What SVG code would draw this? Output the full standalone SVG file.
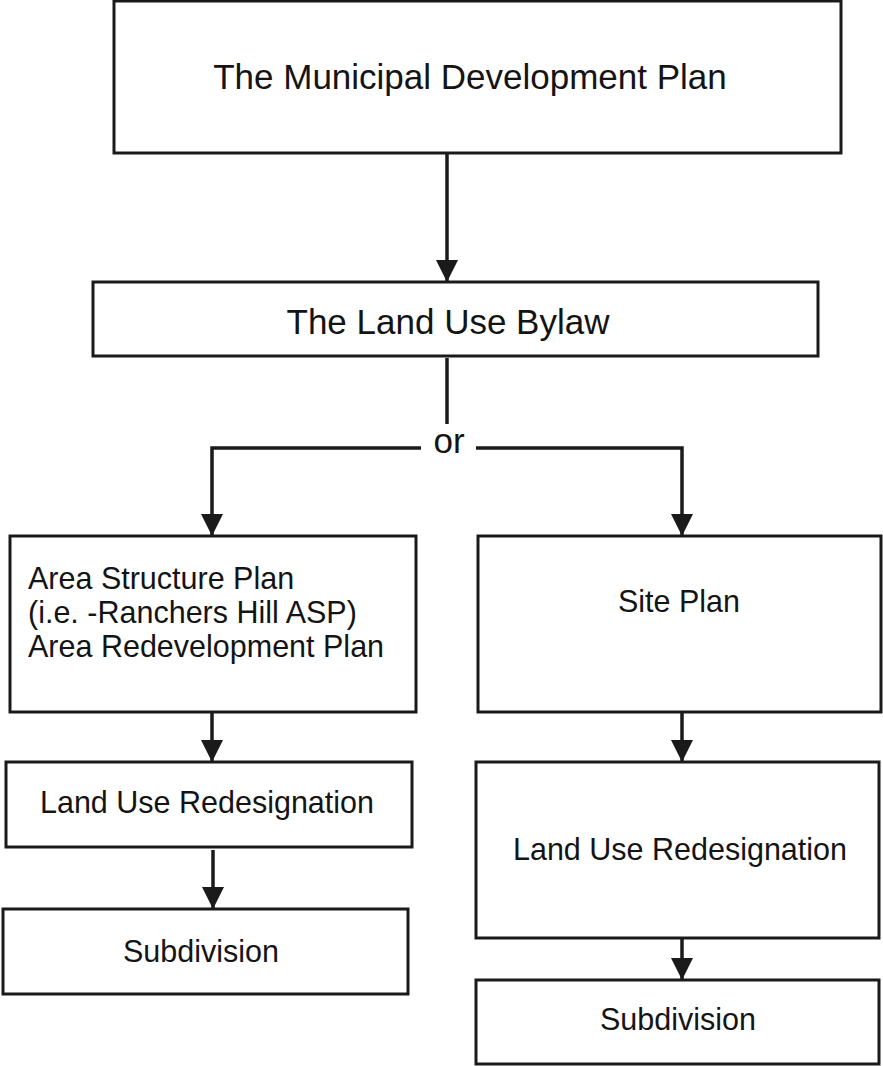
<svg xmlns="http://www.w3.org/2000/svg" width="883" height="1066" viewBox="0 0 883 1066">
<style>
.box{fill:#fff;stroke:#1a1a1a;stroke-width:3}
.lbl{font-family:"Liberation Sans",Arial,sans-serif;fill:#141414}
.big{font-size:35px}
.sm{font-size:30.5px}
.c{text-anchor:middle}
.con{fill:none;stroke:#1a1a1a;stroke-width:3.5}
</style>
<defs>
<marker id="ah" markerUnits="userSpaceOnUse" markerWidth="26" markerHeight="22" refX="21" refY="11" orient="auto">
<path d="M0,0 L22,11 L0,22 Z" fill="#1a1a1a"/>
</marker>
</defs>
<rect width="883" height="1066" fill="#fff"/>
<g id="connectors">
<path class="con" d="M447,153 V281" marker-end="url(#ah)"/>
<path class="con" d="M447,358 V424"/>
<path class="con" d="M421,448 H212 V535" marker-end="url(#ah)"/>
<path class="con" d="M476,448 H682 V535" marker-end="url(#ah)"/>
<path class="con" d="M212,712 V761" marker-end="url(#ah)"/>
<path class="con" d="M682,712 V761" marker-end="url(#ah)"/>
<path class="con" d="M213,850 V908" marker-end="url(#ah)"/>
<path class="con" d="M682,938 V979" marker-end="url(#ah)"/>
</g>
<g id="mdp">
<rect class="box" x="114" y="1" width="727" height="152"/>
<text class="lbl big c" x="470" y="89">The Municipal Development Plan</text>
</g>
<g id="lub">
<rect class="box" x="93" y="282" width="725" height="74"/>
<text class="lbl big c" x="448" y="334">The Land Use Bylaw</text>
</g>
<g id="or">
<text class="lbl big c" x="449" y="453">or</text>
</g>
<g id="asp">
<rect class="box" x="10" y="536" width="406" height="176"/>
<text class="lbl sm" x="28" y="589">Area Structure Plan</text>
<text class="lbl sm" x="28" y="623">(i.e. -Ranchers Hill ASP)</text>
<text class="lbl sm" x="28" y="657">Area Redevelopment Plan</text>
</g>
<g id="site">
<rect class="box" x="478" y="536" width="403" height="176"/>
<text class="lbl sm c" x="679" y="612">Site Plan</text>
</g>
<g id="lur-left">
<rect class="box" x="6" y="762" width="406" height="85"/>
<text class="lbl sm c" x="207" y="813">Land Use Redesignation</text>
</g>
<g id="sub-left">
<rect class="box" x="3" y="909" width="405" height="85"/>
<text class="lbl sm c" x="201" y="962">Subdivision</text>
</g>
<g id="lur-right">
<rect class="box" x="476" y="762" width="403" height="176"/>
<text class="lbl sm c" x="680" y="860">Land Use Redesignation</text>
</g>
<g id="sub-right">
<rect class="box" x="476" y="980" width="403" height="84"/>
<text class="lbl sm c" x="678" y="1030">Subdivision</text>
</g>
</svg>
